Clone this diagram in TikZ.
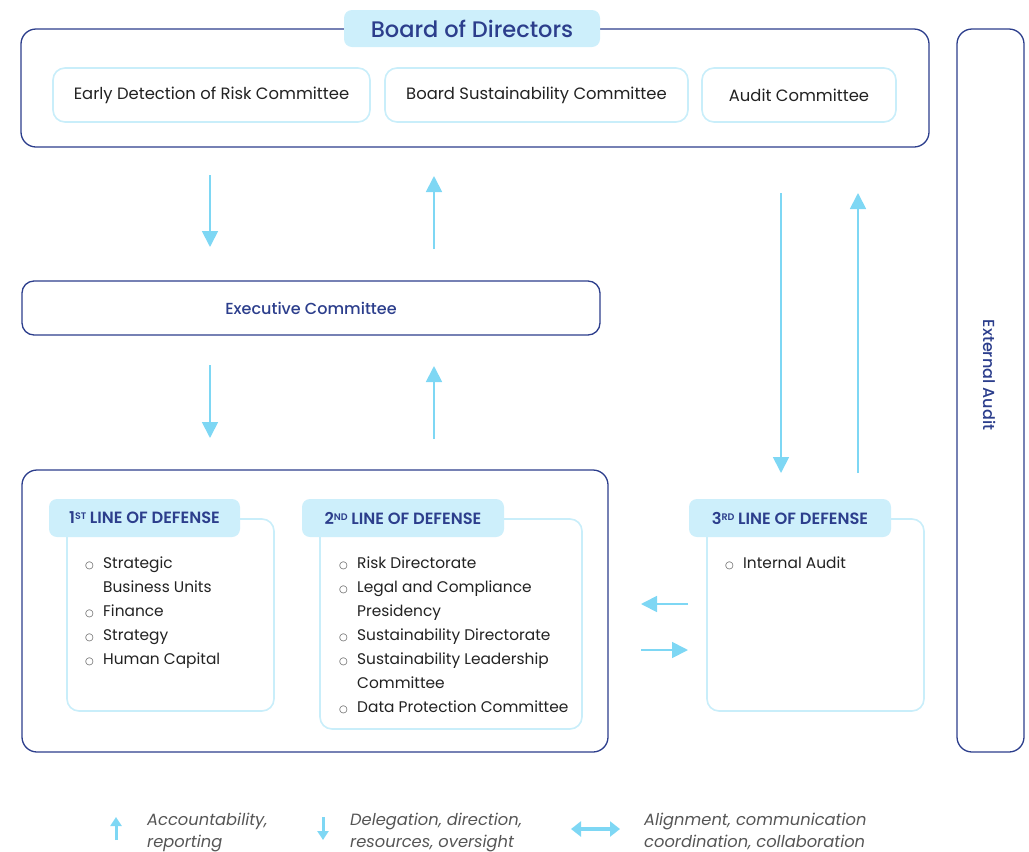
\documentclass[tikz,border=0pt]{standalone}
\usepackage{fontspec}
\setmainfont{Poppins}
\newfontfamily\medfont{Poppins}[UprightFont=* Medium]
\newfontfamily\semifont{Poppins}[UprightFont=* SemiBold]
\newfontfamily\symfont{DejaVu Sans}
\usetikzlibrary{arrows.meta}

\definecolor{navy}{HTML}{2C3E8C}
\definecolor{skyfill}{HTML}{CDEFFB}
\definecolor{skyline}{HTML}{C9EEFA}
\definecolor{arrowblue}{HTML}{7ED7F4}
\definecolor{ink}{HTML}{222222}
\definecolor{legendgray}{HTML}{555555}

\newcommand{\bul}{\makebox[18pt][l]{\symfont\fontsize{10}{10}\selectfont\textcolor{black!70}{○}}}
\newcommand{\cont}{\hspace*{18pt}}
\newcommand{\ord}[1]{\raisebox{4pt}{\fontsize{9.5}{9.5}\selectfont #1}\hspace{3.5pt}}

\begin{document}
\begin{tikzpicture}[x=1pt, y=-1pt,
    frame/.style={draw=navy, line width=1.3pt, rounded corners=15pt, inner sep=0pt},
    tab/.style={fill=skyfill, rounded corners=8pt, text=navy, inner sep=0pt,
      font=\fontsize{16.3}{16.3}\selectfont\semifont},
    cmte/.style={draw=skyline, line width=1.6pt, rounded corners=12pt, fill=white,
      minimum height=54pt, inner sep=0pt, text=ink, font=\fontsize{16.4}{18}\selectfont},
    panel/.style={draw=skyline, line width=1.6pt, rounded corners=12pt, fill=white, inner sep=0pt},
    items/.style={anchor=north west, align=left, inner sep=0pt, text=ink,
      font=\fontsize{15.4}{24}\selectfont},
    flow/.style={draw=arrowblue, line width=1.8pt, -{Triangle[width=16pt,length=16pt]}},
    key/.style={draw=arrowblue, line width=3pt, -{Triangle[width=11pt,length=9pt]}},
    keytext/.style={anchor=north west, align=left, inner sep=0pt, text=legendgray,
      font=\fontsize{16.3}{22}\selectfont\itshape}
  ]
  \useasboundingbox (0,0) rectangle (1029,852);

  % board and its committees
  \node[frame, minimum width=908pt, minimum height=118pt] (board) at (475,88) {};
  \node[tab, minimum width=256pt, minimum height=37pt,
    font=\fontsize{22.5}{22.5}\selectfont\medfont] (boardtab) at (472,28.5) {Board of Directors};
  \node[cmte, minimum width=317pt] (edr) at (211.5,95) {Early Detection of Risk Committee};
  \node[cmte, minimum width=303pt] (bsc) at (536.5,95) {Board Sustainability Committee};
  \node[cmte, minimum width=194pt] (aud) at (799,95) {Audit Committee};

  \node[frame, minimum width=67pt, minimum height=723pt] (ext) at (990.5,390.5) {};
  \node[rotate=-90, text=navy, font=\fontsize{16}{16}\selectfont\medfont] (extlabel) at (990,375) {External Audit};

  \node[frame, rounded corners=12pt, minimum width=578pt, minimum height=54pt, text=navy,
    font=\fontsize{16}{16}\selectfont\medfont] (exec) at (311,308) {Executive Committee};

  % lines of defense
  \node[frame, minimum width=586pt, minimum height=282pt] (lod) at (315,611) {};

  \node[panel, minimum width=207pt, minimum height=192pt] (first) at (170.5,615) {};
  \node[tab, minimum width=191pt, minimum height=38pt] (firsttab) at (144.5,518)
    {1\ord{ST}LINE OF DEFENSE};
  \node[items] (firstlist) at (85,557) {\bul Strategic\\\cont Business Units\\\bul Finance\\
    \bul Strategy\\\bul Human Capital};

  \node[panel, minimum width=262pt, minimum height=210pt] (second) at (451,624) {};
  \node[tab, minimum width=202pt, minimum height=38pt] (secondtab) at (403,518)
    {2\ord{ND}LINE OF DEFENSE};
  \node[items] (secondlist) at (339,557) {\bul Risk Directorate\\\bul Legal and Compliance\\
    \cont Presidency\\\bul Sustainability Directorate\\\bul Sustainability Leadership\\
    \cont Committee\\\bul Data Protection Committee};

  \node[panel, minimum width=217pt, minimum height=192pt] (third) at (815.5,615) {};
  \node[tab, minimum width=202pt, minimum height=38pt] (thirdtab) at (790,518)
    {3\ord{RD}LINE OF DEFENSE};
  \node[items] (thirdlist) at (725,557) {\bul Internal Audit};

  % flows
  \coordinate (dn1a) at (210,175); \coordinate (dn1b) at (210,247);
  \coordinate (up1a) at (434,249); \coordinate (up1b) at (434,176);
  \coordinate (dn2a) at (210,365); \coordinate (dn2b) at (210,438);
  \coordinate (up2a) at (434,439); \coordinate (up2b) at (434,366);
  \coordinate (dn3a) at (781,193); \coordinate (dn3b) at (781,473);
  \coordinate (up3a) at (858,473); \coordinate (up3b) at (858,193);
  \coordinate (lfa) at (688,604); \coordinate (lfb) at (641,604);
  \coordinate (rta) at (641,650); \coordinate (rtb) at (688,650);
  \draw[flow] (dn1a) -- (dn1b);
  \draw[flow] (up1a) -- (up1b);
  \draw[flow] (dn2a) -- (dn2b);
  \draw[flow] (up2a) -- (up2b);
  \draw[flow] (dn3a) -- (dn3b);
  \draw[flow] (up3a) -- (up3b);
  \draw[flow] (lfa) -- (lfb);
  \draw[flow] (rta) -- (rtb);

  % legend
  \coordinate (kupa) at (116,840); \coordinate (kupb) at (116,817);
  \coordinate (kdna) at (323,817); \coordinate (kdnb) at (323,840);
  \coordinate (kbia) at (571,829); \coordinate (kbib) at (620,829);
  \draw[key] (kupa) -- (kupb);
  \draw[key] (kdna) -- (kdnb);
  \draw[key, line width=4pt, {Triangle[width=15pt,length=10pt]}-{Triangle[width=15pt,length=10pt]}] (kbia) -- (kbib);
  \node[keytext] (kup) at (147,813) {Accountability,\\reporting};
  \node[keytext] (kdn) at (350,813) {Delegation, direction,\\resources, oversight};
  \node[keytext] (kbi) at (644,813) {Alignment, communication\\coordination, collaboration};
\end{tikzpicture}
\end{document}
